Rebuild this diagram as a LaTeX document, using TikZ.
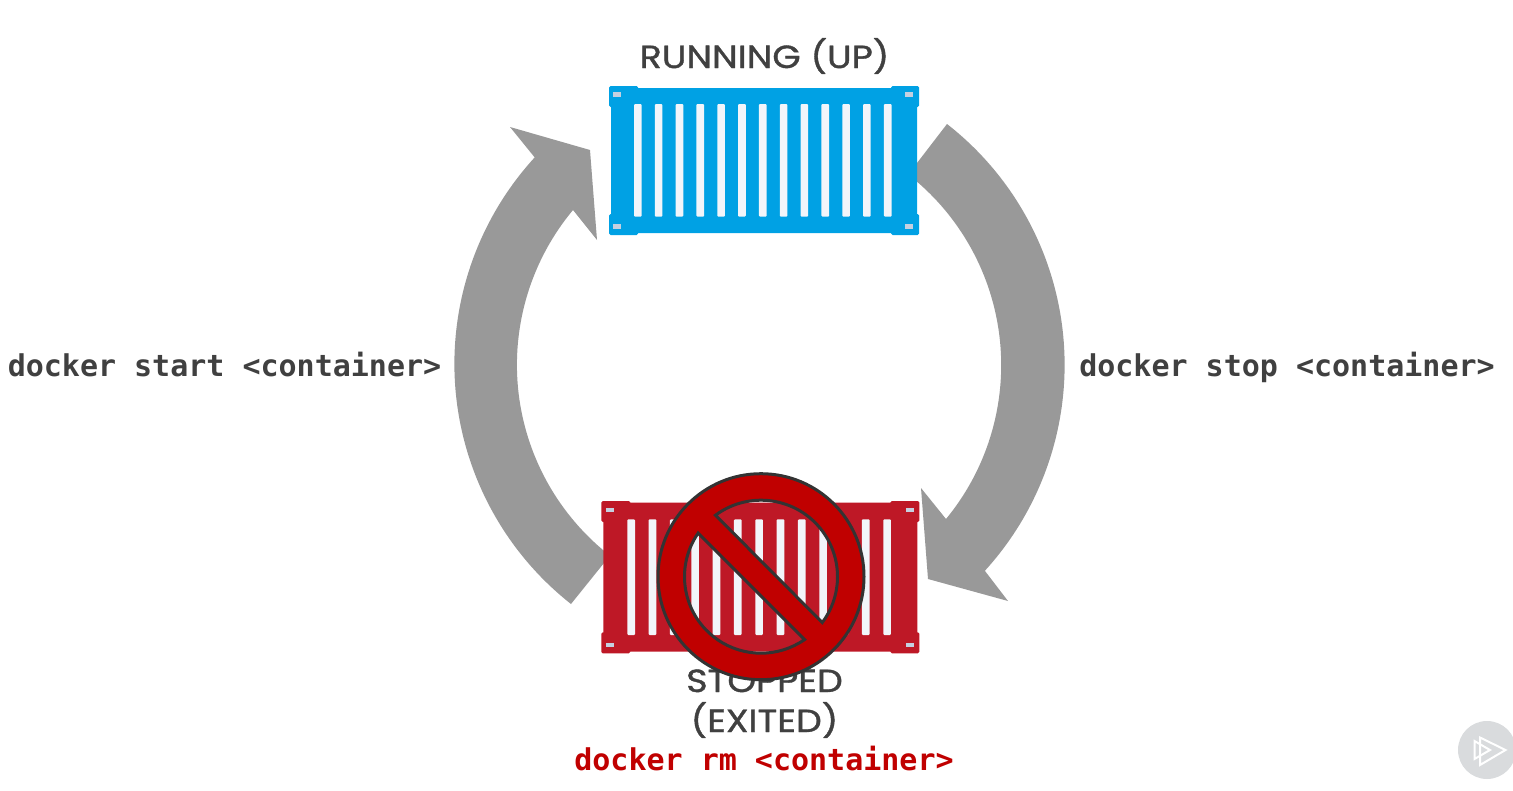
\documentclass[tikz,border=0pt]{standalone}
\usepackage{fontspec}
\setmainfont{Poppins}[FakeStretch=1.14,FakeBold=1.2]
\newfontfamily\codefont{DejaVu Sans Mono Bold}
\definecolor{inkgrey}{HTML}{404040}
\definecolor{arrowgrey}{HTML}{999999}
\definecolor{boxblue}{HTML}{00A1E4}
\definecolor{boxred}{HTML}{BE1826}
\definecolor{slotwhite}{HTML}{F2F5FA}
\definecolor{lockgrey}{HTML}{C5D0E0}
\definecolor{banred}{HTML}{C00000}
\definecolor{banedge}{HTML}{333333}
\definecolor{badgegrey}{HTML}{D9DBDD}
\tikzset{
  x=1pt,y=-1pt,
  cyclearrow/.style={fill=arrowgrey,draw=none},
  titletext/.style={anchor=base,inner sep=0pt,text=inkgrey,font=\fontsize{32}{32}\selectfont},
  codetext/.style={anchor=base,inner sep=0pt,text=inkgrey,font=\codefont\fontsize{30}{30}\selectfont},
  redcode/.style={codetext,text=banred},
  slotbar/.style={fill=slotwhite,rounded corners=1pt},
  lockbar/.style={fill=lockgrey},
}
\begin{document}
\begin{tikzpicture}
\useasboundingbox (0,0) rectangle (1513,790);
% cycle arrows
\coordinate (hub) at (759,365);
\fill[cyclearrow] (947,124) arc[start angle=-52.04,end angle=42.35,radius=305.6]
  -- (1008,601) -- (928,579) -- (921,488) -- (946,519)
  arc[start angle=39.47,end angle=-52,radius=242] -- cycle;
\fill[cyclearrow] (571,604) arc[start angle=128.2,end angle=222.5,radius=305.6]
  -- (510,127) -- (590,150) -- (597,240) -- (573,210)
  arc[start angle=219.8,end angle=128,radius=242] -- cycle;
% running container
\fill[boxblue,rounded corners=1pt] (611,88) rectangle (917,233);
\foreach \cx/\cy/\dx/\dy in {609/86/29/21,919/86/-28/21,609/235/29/-21,919/235/-28/-21}{
  \fill[boxblue,rounded corners=1.5pt] (\cx,\cy) -- ++(\dx,0) -- ++(0,\dy) -- ++(-\dx,0) -- cycle;
}
\foreach \i in {0,...,12}{
  \fill[slotbar] ({634+20.83*\i},104) rectangle ++(7.6,112.7);
}
\foreach \lx in {613.3,905}{
  \foreach \ly in {92.3,224.3}{
    \fill[lockbar] (\lx,\ly) rectangle ++(8,4.7);
  }
}
% stopped container
\fill[boxred,rounded corners=1pt] (603.3,502.7) rectangle (917.3,651.7);
\foreach \cx/\cy/\dx/\dy in {601.3/501/29/21,919.3/501/-29/21,601.3/653.3/29/-21,919.3/653.3/-29/-21}{
  \fill[boxred,rounded corners=1.5pt] (\cx,\cy) -- ++(\dx,0) -- ++(0,\dy) -- ++(-\dx,0) -- cycle;
}
\foreach \i in {0,...,12}{
  \fill[slotbar] ({627.3+21.33*\i},519.3) rectangle ++(7.7,115.7);
}
\foreach \lx in {606.3,905.5}{
  \foreach \ly in {507.7,642.7}{
    \fill[lockbar] (\lx,\ly) rectangle ++(8,4.7);
  }
}
% labels
\node[titletext] (running) at (764.5,68) {RUNNING (UP)};
\node[titletext] (stopped) at (764.5,692) {STOPPED};
\node[titletext] (exited) at (764.5,732) {(EXITED)};
\node[codetext] (startcmd) at (224.5,376) {docker start <container>};
\node[codetext] (stopcmd) at (1287,376) {docker stop <container>};
\node[redcode] (rmcmd) at (764,770) {docker rm <container>};
% prohibition sign
\coordinate (ban) at (761,576.7);
\filldraw[fill=banred,draw=banedge,line width=3pt,even odd rule,line join=miter]
  (ban) circle[radius=103]
  (ban) ++(-126.5:76.5) arc[start angle=-126.5,end angle=36.8,radius=76.5] -- cycle
  (ban) ++(-145.3:76.5) arc[start angle=-145.3,end angle=-304.7,radius=76.5] -- cycle;
% badge
\begin{scope}
\clip (0,0) rectangle (1513,790);
\fill[badgegrey] (1487,750) circle[radius=29];
\draw[white,line width=2pt,line join=miter] (1480,737.5) -- (1505.5,750) -- (1480,765) -- cycle;
\draw[white,line width=2pt,line join=miter] (1474.5,741) -- (1490,750) -- (1474.5,759) -- cycle;
\end{scope}
\end{tikzpicture}
\end{document}
